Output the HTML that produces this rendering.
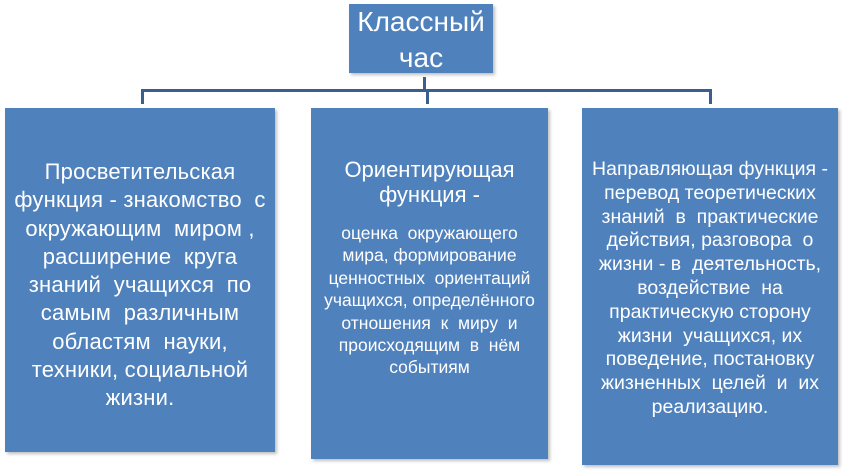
<!DOCTYPE html>
<html><head><meta charset="utf-8"><style>
html,body{margin:0;padding:0;background:#fff;width:844px;height:471px;overflow:hidden;position:relative;font-family:"Liberation Sans","DejaVu Sans",sans-serif;color:#fff}
.b{position:absolute;background:#4f81bd;text-align:center;box-shadow:2px 2px 3px rgba(0,0,0,0.25)}
.t{position:absolute;left:-10px;right:-10px;text-align:center;white-space:nowrap}
.l{position:absolute;background:#3a5f8f}
</style></head><body>
<div class="b" style="left:349px;top:4px;width:144px;height:69px">
 <div class="t" style="top:0px;font-size:28px;line-height:36px">Классный<br>час</div>
</div>
<div class="l" style="left:423px;top:77px;width:3px;height:15px"></div>
<div class="l" style="left:141px;top:89px;width:571px;height:3px"></div>
<div class="l" style="left:141px;top:89px;width:3px;height:15px"></div>
<div class="l" style="left:426px;top:89px;width:3px;height:15px"></div>
<div class="l" style="left:709px;top:89px;width:3px;height:15px"></div>

<div class="b" style="left:5px;top:108px;width:270px;height:344px">
 <div class="t" style="top:50px;font-size:22px;line-height:28.3px;letter-spacing:0.2px">Просветительская<br>функция - знакомство&nbsp; с<br>окружающим&nbsp; миром ,<br>расширение&nbsp; круга<br>знаний&nbsp; учащихся&nbsp; по<br>самым&nbsp; различным<br>областям&nbsp; науки,<br>техники, социальной<br>жизни.</div>
</div>
<div class="b" style="left:311px;top:108px;width:237px;height:351px">
 <div class="t" style="top:49px;font-size:22px;line-height:25px">Ориентирующая<br>функция -</div>
 <div class="t" style="top:114px;font-size:17.5px;line-height:22.4px">оценка&nbsp; окружающего<br>мира, формирование<br>ценностных&nbsp; ориентаций<br>учащихся, определённого<br>отношения&nbsp; к&nbsp; миру&nbsp; и<br>происходящим&nbsp; в&nbsp; нём<br>событиям</div>
</div>
<div class="b" style="left:582px;top:108px;width:256px;height:357px">
 <div class="t" style="top:50px;font-size:19.5px;line-height:23.8px">Направляющая функция -<br>перевод теоретических<br>знаний&nbsp; в&nbsp; практические<br>действия, разговора&nbsp; о<br>жизни - в&nbsp; деятельность,<br>воздействие&nbsp; на<br>практическую сторону<br>жизни&nbsp; учащихся, их<br>поведение, постановку<br>жизненных&nbsp; целей&nbsp; и&nbsp; их<br>реализацию.</div>
</div>
</body></html>
